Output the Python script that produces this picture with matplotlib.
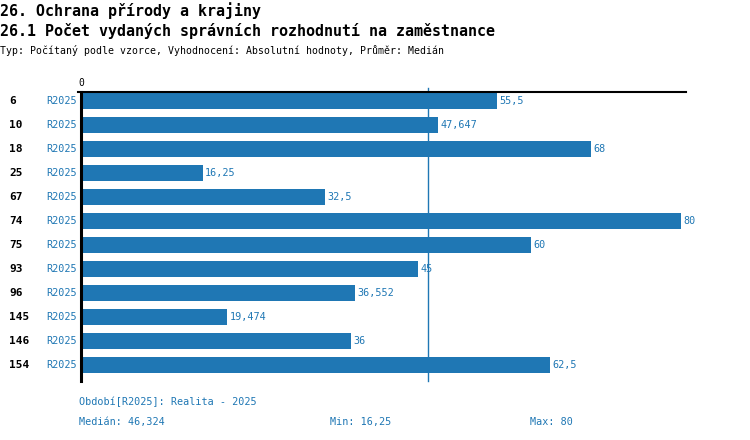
import matplotlib
matplotlib.use('Agg')
import matplotlib.pyplot as plt

# data
categories = ['6', '10', '18', '25', '67', '74', '75', '93', '96', '145', '146', '154']
values = [55.5, 47.647, 68, 16.25, 32.5, 80, 60, 45, 36.552, 19.474, 36, 62.5]
period = 'R2025'
median = 46.324
v_min = 16.25
v_max = 80

blue = '#1f77b4'
mono = 'DejaVu Sans Mono'


def fmt(v):
    s = ('%.3f' % v).rstrip('0').rstrip('.')
    return s.replace('.', ',')


W, H = 750, 440
fig = plt.figure(figsize=(7.5, 4.4), dpi=100)

# axes placed in pixel coords: x 81..686, y 92..381
left, right, top, bottom = 81, 686, 92, 381
ax = fig.add_axes([left / W, 1 - bottom / H, (right - left) / W, (bottom - top) / H])
ax.set_xlim(0, (right - left) / 7.5)
n = len(categories)
y_top = (top - 101) / 24
y_bot = (bottom - 101) / 24
ax.set_ylim(y_bot, y_top)
for s in ax.spines.values():
    s.set_visible(False)
ax.set_xticks([])
ax.set_yticks([])

ypos = list(range(n))
ax.barh(ypos, values, height=0.67, color=blue, zorder=2)

# axis lines
ax.plot([-0.4, (right - left) / 7.5], [y_top, y_top], color='black', lw=1.5, clip_on=False, zorder=3)
ax.plot([0, 0], [y_top, y_bot], color='black', lw=2.2, clip_on=False, zorder=3)
ax.plot([median, median], [y_top - 0.17, y_bot], color=blue, lw=1, clip_on=False, zorder=1)
ax.text(0, y_top - 0.15, '0', ha='center', va='bottom', fontsize=7, family=mono)

for y, c, v in zip(ypos, categories, values):
    ax.text(v + 0.3, y, fmt(v), va='center', ha='left', fontsize=7.3, color=blue, family=mono)
    fig.text(9 / W, 1 - (101 + 24 * y) / H, c, va='center', ha='left', fontsize=8,
             fontweight='bold', family=mono)
    fig.text(77 / W, 1 - (101 + 24 * y) / H, period, va='center', ha='right', fontsize=7.3,
             color=blue, family=mono)

# titles
fig.text(0, 1 - 11 / H, '26. Ochrana přírody a krajiny', fontsize=10.8, family=mono,
         fontweight='bold', va='center', ha='left')
fig.text(0, 1 - 31 / H, '26.1 Počet vydaných správních rozhodnutí na zaměstnance', fontsize=10.8,
         family=mono, fontweight='bold', va='center', ha='left')
fig.text(0, 1 - 50 / H, 'Typ: Počítaný podle vzorce, Vyhodnocení: Absolutní hodnoty, Průměr: Medián',
         fontsize=7.1, family=mono, va='center', ha='left')

# footer
fig.text(79 / W, 1 - 402 / H, 'Období[R2025]: Realita - 2025', fontsize=7.3, color=blue,
         family=mono, va='center', ha='left')
fig.text(79 / W, 1 - 422 / H, 'Medián: ' + fmt(median), fontsize=7.3, color=blue,
         family=mono, va='center', ha='left')
fig.text(330 / W, 1 - 422 / H, 'Min: ' + fmt(v_min), fontsize=7.3, color=blue,
         family=mono, va='center', ha='left')
fig.text(530 / W, 1 - 422 / H, 'Max: ' + fmt(v_max), fontsize=7.3, color=blue,
         family=mono, va='center', ha='left')

fig.savefig('out.png', dpi=100)
